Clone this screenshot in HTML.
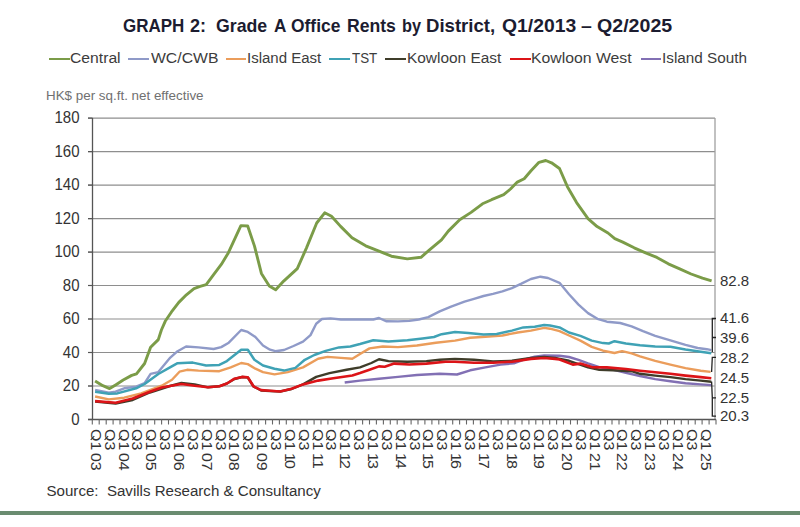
<!DOCTYPE html>
<html><head><meta charset="utf-8">
<style>
html,body{margin:0;padding:0;background:#fff;}
body{width:800px;height:527px;position:relative;overflow:hidden;font-family:"Liberation Sans",sans-serif;}
.abs{position:absolute;}
.tw{position:absolute;top:14.8px;font-weight:bold;font-size:19px;line-height:22px;color:#1c1c30;white-space:pre;transform-origin:0 0;}
.lgl{position:absolute;top:57.8px;height:2.6px;}
.xr b{font-weight:normal;letter-spacing:-1.6px;}
.lgt{position:absolute;top:48.8px;font-size:15.5px;color:#3c3c3c;white-space:pre;line-height:18px;transform-origin:0 0;}
#unit{position:absolute;left:46px;top:88px;font-size:13.4px;color:#707070;white-space:nowrap;line-height:15px;}
.yl{position:absolute;right:720.5px;width:40px;text-align:right;font-size:15px;color:#333;line-height:18px;transform:scaleY(1.12);transform-origin:50% 50%;}
.rl{position:absolute;left:720px;font-size:15px;color:#333;line-height:18px;}
.xr{position:absolute;top:428.9px;writing-mode:vertical-rl;font-size:14px;line-height:14px;color:#333;white-space:pre;transform-origin:0 0;transform:scaleY(1.14);}
.xl span{}
#src{position:absolute;left:46.5px;top:482px;font-size:15.1px;color:#333;white-space:nowrap;line-height:17px;}
#bar{position:absolute;left:0;top:511.4px;width:800px;height:3.4px;background:#6a8c70;}
svg{position:absolute;left:0;top:0;}
</style></head><body>
<div class="tw" style="left:122.50px;transform:scaleX(0.8934)">GRAPH</div><div class="tw" style="left:189.75px;transform:scaleX(0.9500)">2:</div><div class="tw" style="left:215.70px;transform:scaleX(0.9327)">Grade</div><div class="tw" style="left:273.50px;transform:scaleX(0.9038)">A</div><div class="tw" style="left:291.25px;transform:scaleX(0.9167)">Office</div><div class="tw" style="left:347.32px;transform:scaleX(0.9265)">Rents</div><div class="tw" style="left:401.64px;transform:scaleX(0.8571)">by</div><div class="tw" style="left:426.27px;transform:scaleX(0.9783)">District,</div><div class="tw" style="left:501.50px;transform:scaleX(1.0171)">Q1/2013</div><div class="tw" style="left:581.25px;transform:scaleX(1.0250)">&ndash;</div><div class="tw" style="left:596.50px;transform:scaleX(1.0315)">Q2/2025</div>
<div class="lgl" style="left:48.5px;width:21.0px;background:#7b9c48"></div><div class="lgt" style="left:70.19px;transform:scaleX(1.0125)">Central</div><div class="lgl" style="left:128.3px;width:20.6px;background:#8f9ac8"></div><div class="lgt" style="left:150.90px;transform:scaleX(1.0167)">WC/CWB</div><div class="lgl" style="left:225.5px;width:20.6px;background:#eb9d5b"></div><div class="lgt" style="left:247.23px;transform:scaleX(0.9684)">Island East</div><div class="lgl" style="left:329.4px;width:20.6px;background:#3fa2b5"></div><div class="lgt" style="left:351.90px;transform:scaleX(0.8621)">TST</div><div class="lgl" style="left:385.0px;width:21.0px;background:#3f3d2a"></div><div class="lgt" style="left:406.51px;transform:scaleX(0.9947)">Kowloon East</div><div class="lgl" style="left:509.6px;width:21.0px;background:#dc1418"></div><div class="lgt" style="left:531.38px;transform:scaleX(1.0184)">Kowloon West</div><div class="lgl" style="left:640.6px;width:20.3px;background:#8270b4"></div><div class="lgt" style="left:662.31px;transform:scaleX(0.9859)">Island South</div>
<div id="unit">HK$ per sq.ft. net effective</div>
<svg width="800" height="527" viewBox="0 0 800 527"><line x1="88" y1="386.0" x2="715" y2="386.0" stroke="#8e8e8e" stroke-width="1.2"/>
<line x1="88" y1="352.5" x2="715" y2="352.5" stroke="#8e8e8e" stroke-width="1.2"/>
<line x1="88" y1="319.0" x2="715" y2="319.0" stroke="#8e8e8e" stroke-width="1.2"/>
<line x1="88" y1="285.5" x2="715" y2="285.5" stroke="#8e8e8e" stroke-width="1.2"/>
<line x1="88" y1="252.1" x2="715" y2="252.1" stroke="#8e8e8e" stroke-width="1.2"/>
<line x1="88" y1="218.6" x2="715" y2="218.6" stroke="#8e8e8e" stroke-width="1.2"/>
<line x1="88" y1="185.1" x2="715" y2="185.1" stroke="#8e8e8e" stroke-width="1.2"/>
<line x1="88" y1="151.6" x2="715" y2="151.6" stroke="#8e8e8e" stroke-width="1.2"/>
<line x1="88" y1="118.1" x2="715" y2="118.1" stroke="#8e8e8e" stroke-width="1.2"/>
<line x1="715" y1="118" x2="715" y2="419.5" stroke="#a0a0a0" stroke-width="1.3"/>
<polyline points="344.7,382.5 360.0,380.6 379.0,378.7 398.0,376.9 416.9,375.0 439.7,373.8 457.0,374.5 470.2,370.3 485.4,367.4 500.5,364.6 513.8,363.3 523.3,359.8 534.7,356.6 544.2,355.5 559.5,355.7 569.0,357.0 578.5,359.8 588.0,363.3 599.3,367.1 612.6,369.7 625.9,372.8 640.0,376.0 655.2,379.1 670.4,381.3 685.5,383.2 700.7,384.4 711.3,385.1" fill="none" stroke="#8270b4" stroke-width="2.4" stroke-linejoin="round" stroke-linecap="butt"/>
<polyline points="95.1,396.5 108.8,399.4 124.2,397.7 141.2,393.4 161.7,385.7 172.0,379.8 179.5,371.7 187.1,369.8 198.5,370.6 219.3,371.2 230.7,367.4 241.2,363.0 247.8,364.1 255.4,368.7 263.0,372.1 274.5,374.4 287.8,372.1 303.0,367.4 318.1,358.8 327.6,356.9 340.9,357.9 352.3,358.8 360.0,354.1 369.5,348.4 382.8,346.5 398.0,347.1 416.9,345.5 435.9,342.7 455.0,340.6 470.2,337.8 485.4,336.8 502.4,335.5 517.6,332.5 530.9,330.6 544.2,327.9 550.0,328.7 559.5,331.2 569.0,335.5 580.4,340.6 591.7,346.9 603.1,350.7 614.5,353.0 622.1,351.1 631.6,353.4 640.0,356.3 655.2,360.9 670.4,364.6 685.5,368.1 700.7,370.7 710.6,371.9" fill="none" stroke="#eb9d5b" stroke-width="2.4" stroke-linejoin="round" stroke-linecap="butt"/>
<polyline points="95.1,390.0 108.8,392.6 115.6,391.7 124.2,388.3 136.1,386.6 144.6,383.2 150.6,373.8 158.3,372.1 170.3,357.6 177.6,351.2 186.1,346.5 198.5,347.4 213.6,349.0 221.2,347.1 228.8,342.7 241.2,330.0 247.8,331.9 255.4,337.0 263.0,345.5 270.0,349.7 275.4,351.2 284.0,350.0 293.5,346.0 303.0,341.7 310.5,335.1 316.2,323.7 321.9,319.0 330.5,318.4 340.9,319.5 365.0,319.5 373.3,319.5 379.0,318.0 386.6,321.3 398.0,321.4 409.3,320.9 418.8,319.5 428.3,317.1 439.7,311.4 451.1,306.6 464.5,301.7 474.0,298.9 483.5,296.0 493.0,293.8 502.4,291.3 511.9,288.1 521.4,283.7 530.9,279.0 540.4,276.7 548.0,278.0 559.5,282.8 569.0,294.2 578.5,304.6 588.0,313.1 597.4,318.8 606.9,321.7 620.2,323.0 631.6,326.4 643.0,331.2 655.2,335.8 670.4,340.4 685.5,344.9 697.7,348.0 706.8,349.2 711.3,350.2" fill="none" stroke="#8f9ac8" stroke-width="2.4" stroke-linejoin="round" stroke-linecap="butt"/>
<polyline points="95.1,391.7 108.8,393.8 117.3,393.4 136.1,388.3 144.6,384.0 158.3,374.0 170.0,367.4 177.6,363.2 192.8,362.6 206.1,365.5 219.3,364.9 226.9,361.1 241.2,349.7 247.8,349.7 254.4,359.8 263.0,365.5 274.5,368.7 284.0,370.6 295.4,367.9 304.8,359.8 314.3,355.0 325.7,350.9 339.0,347.4 350.4,346.5 360.0,344.0 373.3,340.2 388.5,341.4 407.4,340.2 422.6,338.5 434.0,337.0 441.6,334.2 455.0,332.1 468.3,333.1 483.5,334.6 496.7,334.0 511.9,330.6 523.3,327.4 534.7,326.8 544.2,324.9 550.0,325.5 559.5,327.4 569.0,332.5 580.4,335.9 591.7,340.6 603.1,343.1 608.8,343.5 614.5,341.2 625.9,343.5 640.0,345.2 655.2,346.4 670.4,346.7 685.5,349.5 700.7,351.7 711.3,353.3" fill="none" stroke="#3fa2b5" stroke-width="2.5" stroke-linejoin="round" stroke-linecap="butt"/>
<polyline points="95.1,381.1 102.8,385.7 109.6,388.6 115.6,384.9 123.2,380.0 131.7,375.4 136.5,373.8 144.6,363.5 150.6,347.3 158.3,339.6 161.4,330.0 165.2,321.3 171.3,312.2 178.8,302.4 186.4,294.8 194.0,288.7 200.1,286.4 206.2,284.6 213.8,274.3 221.3,264.4 228.3,252.9 240.9,225.6 247.7,226.0 254.5,246.1 261.4,273.4 269.3,285.9 275.7,289.8 283.7,281.1 297.3,268.6 306.4,248.1 316.7,223.0 324.7,212.8 331.5,216.2 340.6,226.4 352.0,237.8 365.7,245.8 377.1,250.4 391.4,256.2 407.3,258.9 421.0,257.3 430.1,249.3 441.5,239.8 448.3,231.1 459.7,219.7 471.1,212.4 482.5,203.8 491.6,199.7 503.7,194.7 510.5,189.0 517.3,182.1 524.2,178.7 531.0,170.8 539.0,162.3 545.8,160.5 551.5,162.8 559.5,168.5 567.4,186.7 576.6,202.6 588.0,218.6 597.1,226.6 608.0,233.0 614.8,238.7 622.8,242.1 634.2,247.8 645.6,252.8 656.9,257.4 668.3,263.8 679.7,268.8 691.1,274.0 702.5,278.1 711.6,280.9" fill="none" stroke="#7b9c48" stroke-width="2.9" stroke-linejoin="round" stroke-linecap="butt"/>
<polyline points="95.1,401.5 115.6,403.5 132.7,400.0 149.8,392.5 170.0,386.0 181.4,383.0 194.7,384.5 208.0,387.3 219.3,386.3 226.9,383.5 234.5,379.0 242.1,377.0 247.8,377.5 253.5,386.5 261.1,390.5 270.0,391.0 280.2,391.5 291.6,389.0 303.0,384.4 316.2,376.9 329.5,373.1 346.6,369.8 360.0,367.4 371.4,363.0 379.0,359.2 388.5,361.1 407.4,361.7 426.4,361.1 439.7,359.8 455.0,358.9 474.0,359.8 493.0,361.4 512.0,360.8 530.9,358.0 544.2,357.0 555.0,358.0 569.0,360.8 588.0,367.4 599.3,369.7 612.6,370.3 631.6,371.2 640.0,373.8 655.2,375.6 670.4,377.1 685.5,379.1 700.7,380.6 711.3,381.7" fill="none" stroke="#3f3d2a" stroke-width="2.4" stroke-linejoin="round" stroke-linecap="butt"/>
<polyline points="95.1,401.1 115.6,402.8 132.7,398.5 149.8,391.7 161.7,387.5 170.0,386.0 181.4,384.0 194.7,385.8 208.0,387.3 219.3,386.3 226.9,383.5 234.5,378.7 242.1,376.9 247.8,377.2 253.5,386.3 261.1,390.1 270.0,390.7 280.2,391.5 291.6,388.8 303.0,384.4 318.1,380.6 333.3,378.2 352.3,375.5 360.0,373.1 369.5,369.8 379.0,366.4 384.7,366.8 394.2,363.6 409.3,364.5 426.4,363.6 445.4,361.7 455.0,361.7 474.0,362.7 493.0,362.7 512.0,361.7 530.9,358.9 544.2,358.0 555.0,358.9 559.5,359.5 572.8,364.6 580.4,363.6 591.7,367.1 606.9,367.4 625.9,369.0 640.0,370.7 655.2,372.2 670.4,373.8 685.5,375.6 700.7,377.1 711.3,378.3" fill="none" stroke="#dc1418" stroke-width="2.6" stroke-linejoin="round" stroke-linecap="butt"/>
<line x1="92.5" y1="118" x2="92.5" y2="420" stroke="#555" stroke-width="1.3"/>
<line x1="88" y1="419.5" x2="716" y2="419.5" stroke="#555" stroke-width="1.3"/>
<line x1="92.3" y1="419.5" x2="92.3" y2="424.5" stroke="#666" stroke-width="1.1"/>
<line x1="99.2" y1="419.5" x2="99.2" y2="424.5" stroke="#666" stroke-width="1.1"/>
<line x1="106.2" y1="419.5" x2="106.2" y2="424.5" stroke="#666" stroke-width="1.1"/>
<line x1="113.1" y1="419.5" x2="113.1" y2="424.5" stroke="#666" stroke-width="1.1"/>
<line x1="120.0" y1="419.5" x2="120.0" y2="424.5" stroke="#666" stroke-width="1.1"/>
<line x1="126.9" y1="419.5" x2="126.9" y2="424.5" stroke="#666" stroke-width="1.1"/>
<line x1="133.9" y1="419.5" x2="133.9" y2="424.5" stroke="#666" stroke-width="1.1"/>
<line x1="140.8" y1="419.5" x2="140.8" y2="424.5" stroke="#666" stroke-width="1.1"/>
<line x1="147.7" y1="419.5" x2="147.7" y2="424.5" stroke="#666" stroke-width="1.1"/>
<line x1="154.7" y1="419.5" x2="154.7" y2="424.5" stroke="#666" stroke-width="1.1"/>
<line x1="161.6" y1="419.5" x2="161.6" y2="424.5" stroke="#666" stroke-width="1.1"/>
<line x1="168.5" y1="419.5" x2="168.5" y2="424.5" stroke="#666" stroke-width="1.1"/>
<line x1="175.5" y1="419.5" x2="175.5" y2="424.5" stroke="#666" stroke-width="1.1"/>
<line x1="182.4" y1="419.5" x2="182.4" y2="424.5" stroke="#666" stroke-width="1.1"/>
<line x1="189.3" y1="419.5" x2="189.3" y2="424.5" stroke="#666" stroke-width="1.1"/>
<line x1="196.2" y1="419.5" x2="196.2" y2="424.5" stroke="#666" stroke-width="1.1"/>
<line x1="203.2" y1="419.5" x2="203.2" y2="424.5" stroke="#666" stroke-width="1.1"/>
<line x1="210.1" y1="419.5" x2="210.1" y2="424.5" stroke="#666" stroke-width="1.1"/>
<line x1="217.0" y1="419.5" x2="217.0" y2="424.5" stroke="#666" stroke-width="1.1"/>
<line x1="224.0" y1="419.5" x2="224.0" y2="424.5" stroke="#666" stroke-width="1.1"/>
<line x1="230.9" y1="419.5" x2="230.9" y2="424.5" stroke="#666" stroke-width="1.1"/>
<line x1="237.8" y1="419.5" x2="237.8" y2="424.5" stroke="#666" stroke-width="1.1"/>
<line x1="244.8" y1="419.5" x2="244.8" y2="424.5" stroke="#666" stroke-width="1.1"/>
<line x1="251.7" y1="419.5" x2="251.7" y2="424.5" stroke="#666" stroke-width="1.1"/>
<line x1="258.6" y1="419.5" x2="258.6" y2="424.5" stroke="#666" stroke-width="1.1"/>
<line x1="265.6" y1="419.5" x2="265.6" y2="424.5" stroke="#666" stroke-width="1.1"/>
<line x1="272.5" y1="419.5" x2="272.5" y2="424.5" stroke="#666" stroke-width="1.1"/>
<line x1="279.4" y1="419.5" x2="279.4" y2="424.5" stroke="#666" stroke-width="1.1"/>
<line x1="286.3" y1="419.5" x2="286.3" y2="424.5" stroke="#666" stroke-width="1.1"/>
<line x1="293.3" y1="419.5" x2="293.3" y2="424.5" stroke="#666" stroke-width="1.1"/>
<line x1="300.2" y1="419.5" x2="300.2" y2="424.5" stroke="#666" stroke-width="1.1"/>
<line x1="307.1" y1="419.5" x2="307.1" y2="424.5" stroke="#666" stroke-width="1.1"/>
<line x1="314.1" y1="419.5" x2="314.1" y2="424.5" stroke="#666" stroke-width="1.1"/>
<line x1="321.0" y1="419.5" x2="321.0" y2="424.5" stroke="#666" stroke-width="1.1"/>
<line x1="327.9" y1="419.5" x2="327.9" y2="424.5" stroke="#666" stroke-width="1.1"/>
<line x1="334.8" y1="419.5" x2="334.8" y2="424.5" stroke="#666" stroke-width="1.1"/>
<line x1="341.8" y1="419.5" x2="341.8" y2="424.5" stroke="#666" stroke-width="1.1"/>
<line x1="348.7" y1="419.5" x2="348.7" y2="424.5" stroke="#666" stroke-width="1.1"/>
<line x1="355.6" y1="419.5" x2="355.6" y2="424.5" stroke="#666" stroke-width="1.1"/>
<line x1="362.6" y1="419.5" x2="362.6" y2="424.5" stroke="#666" stroke-width="1.1"/>
<line x1="369.5" y1="419.5" x2="369.5" y2="424.5" stroke="#666" stroke-width="1.1"/>
<line x1="376.4" y1="419.5" x2="376.4" y2="424.5" stroke="#666" stroke-width="1.1"/>
<line x1="383.4" y1="419.5" x2="383.4" y2="424.5" stroke="#666" stroke-width="1.1"/>
<line x1="390.3" y1="419.5" x2="390.3" y2="424.5" stroke="#666" stroke-width="1.1"/>
<line x1="397.2" y1="419.5" x2="397.2" y2="424.5" stroke="#666" stroke-width="1.1"/>
<line x1="404.1" y1="419.5" x2="404.1" y2="424.5" stroke="#666" stroke-width="1.1"/>
<line x1="411.1" y1="419.5" x2="411.1" y2="424.5" stroke="#666" stroke-width="1.1"/>
<line x1="418.0" y1="419.5" x2="418.0" y2="424.5" stroke="#666" stroke-width="1.1"/>
<line x1="424.9" y1="419.5" x2="424.9" y2="424.5" stroke="#666" stroke-width="1.1"/>
<line x1="431.9" y1="419.5" x2="431.9" y2="424.5" stroke="#666" stroke-width="1.1"/>
<line x1="438.8" y1="419.5" x2="438.8" y2="424.5" stroke="#666" stroke-width="1.1"/>
<line x1="445.7" y1="419.5" x2="445.7" y2="424.5" stroke="#666" stroke-width="1.1"/>
<line x1="452.7" y1="419.5" x2="452.7" y2="424.5" stroke="#666" stroke-width="1.1"/>
<line x1="459.6" y1="419.5" x2="459.6" y2="424.5" stroke="#666" stroke-width="1.1"/>
<line x1="466.5" y1="419.5" x2="466.5" y2="424.5" stroke="#666" stroke-width="1.1"/>
<line x1="473.4" y1="419.5" x2="473.4" y2="424.5" stroke="#666" stroke-width="1.1"/>
<line x1="480.4" y1="419.5" x2="480.4" y2="424.5" stroke="#666" stroke-width="1.1"/>
<line x1="487.3" y1="419.5" x2="487.3" y2="424.5" stroke="#666" stroke-width="1.1"/>
<line x1="494.2" y1="419.5" x2="494.2" y2="424.5" stroke="#666" stroke-width="1.1"/>
<line x1="501.2" y1="419.5" x2="501.2" y2="424.5" stroke="#666" stroke-width="1.1"/>
<line x1="508.1" y1="419.5" x2="508.1" y2="424.5" stroke="#666" stroke-width="1.1"/>
<line x1="515.0" y1="419.5" x2="515.0" y2="424.5" stroke="#666" stroke-width="1.1"/>
<line x1="522.0" y1="419.5" x2="522.0" y2="424.5" stroke="#666" stroke-width="1.1"/>
<line x1="528.9" y1="419.5" x2="528.9" y2="424.5" stroke="#666" stroke-width="1.1"/>
<line x1="535.8" y1="419.5" x2="535.8" y2="424.5" stroke="#666" stroke-width="1.1"/>
<line x1="542.8" y1="419.5" x2="542.8" y2="424.5" stroke="#666" stroke-width="1.1"/>
<line x1="549.7" y1="419.5" x2="549.7" y2="424.5" stroke="#666" stroke-width="1.1"/>
<line x1="556.6" y1="419.5" x2="556.6" y2="424.5" stroke="#666" stroke-width="1.1"/>
<line x1="563.5" y1="419.5" x2="563.5" y2="424.5" stroke="#666" stroke-width="1.1"/>
<line x1="570.5" y1="419.5" x2="570.5" y2="424.5" stroke="#666" stroke-width="1.1"/>
<line x1="577.4" y1="419.5" x2="577.4" y2="424.5" stroke="#666" stroke-width="1.1"/>
<line x1="584.3" y1="419.5" x2="584.3" y2="424.5" stroke="#666" stroke-width="1.1"/>
<line x1="591.3" y1="419.5" x2="591.3" y2="424.5" stroke="#666" stroke-width="1.1"/>
<line x1="598.2" y1="419.5" x2="598.2" y2="424.5" stroke="#666" stroke-width="1.1"/>
<line x1="605.1" y1="419.5" x2="605.1" y2="424.5" stroke="#666" stroke-width="1.1"/>
<line x1="612.0" y1="419.5" x2="612.0" y2="424.5" stroke="#666" stroke-width="1.1"/>
<line x1="619.0" y1="419.5" x2="619.0" y2="424.5" stroke="#666" stroke-width="1.1"/>
<line x1="625.9" y1="419.5" x2="625.9" y2="424.5" stroke="#666" stroke-width="1.1"/>
<line x1="632.8" y1="419.5" x2="632.8" y2="424.5" stroke="#666" stroke-width="1.1"/>
<line x1="639.8" y1="419.5" x2="639.8" y2="424.5" stroke="#666" stroke-width="1.1"/>
<line x1="646.7" y1="419.5" x2="646.7" y2="424.5" stroke="#666" stroke-width="1.1"/>
<line x1="653.6" y1="419.5" x2="653.6" y2="424.5" stroke="#666" stroke-width="1.1"/>
<line x1="660.6" y1="419.5" x2="660.6" y2="424.5" stroke="#666" stroke-width="1.1"/>
<line x1="667.5" y1="419.5" x2="667.5" y2="424.5" stroke="#666" stroke-width="1.1"/>
<line x1="674.4" y1="419.5" x2="674.4" y2="424.5" stroke="#666" stroke-width="1.1"/>
<line x1="681.3" y1="419.5" x2="681.3" y2="424.5" stroke="#666" stroke-width="1.1"/>
<line x1="688.3" y1="419.5" x2="688.3" y2="424.5" stroke="#666" stroke-width="1.1"/>
<line x1="695.2" y1="419.5" x2="695.2" y2="424.5" stroke="#666" stroke-width="1.1"/>
<line x1="702.1" y1="419.5" x2="702.1" y2="424.5" stroke="#666" stroke-width="1.1"/>
<line x1="709.1" y1="419.5" x2="709.1" y2="424.5" stroke="#666" stroke-width="1.1"/>
<line x1="716.0" y1="419.5" x2="716.0" y2="424.5" stroke="#666" stroke-width="1.1"/>
<line x1="88" y1="419.5" x2="92.5" y2="419.5" stroke="#555" stroke-width="1.2"/>
<line x1="88" y1="386.0" x2="92.5" y2="386.0" stroke="#555" stroke-width="1.2"/>
<line x1="88" y1="352.5" x2="92.5" y2="352.5" stroke="#555" stroke-width="1.2"/>
<line x1="88" y1="319.0" x2="92.5" y2="319.0" stroke="#555" stroke-width="1.2"/>
<line x1="88" y1="285.5" x2="92.5" y2="285.5" stroke="#555" stroke-width="1.2"/>
<line x1="88" y1="252.1" x2="92.5" y2="252.1" stroke="#555" stroke-width="1.2"/>
<line x1="88" y1="218.6" x2="92.5" y2="218.6" stroke="#555" stroke-width="1.2"/>
<line x1="88" y1="185.1" x2="92.5" y2="185.1" stroke="#555" stroke-width="1.2"/>
<line x1="88" y1="151.6" x2="92.5" y2="151.6" stroke="#555" stroke-width="1.2"/>
<line x1="88" y1="118.1" x2="92.5" y2="118.1" stroke="#555" stroke-width="1.2"/>
<line x1="94.27" y1="436.2" x2="90.77" y2="439.8" stroke="#333" stroke-width="1.15"/>
<line x1="108.12" y1="436.2" x2="104.62" y2="439.8" stroke="#333" stroke-width="1.15"/>
<line x1="121.98" y1="436.2" x2="118.48" y2="439.8" stroke="#333" stroke-width="1.15"/>
<line x1="135.84" y1="436.2" x2="132.34" y2="439.8" stroke="#333" stroke-width="1.15"/>
<line x1="149.70" y1="436.2" x2="146.20" y2="439.8" stroke="#333" stroke-width="1.15"/>
<line x1="163.56" y1="436.2" x2="160.06" y2="439.8" stroke="#333" stroke-width="1.15"/>
<line x1="177.43" y1="436.2" x2="173.93" y2="439.8" stroke="#333" stroke-width="1.15"/>
<line x1="191.28" y1="436.2" x2="187.78" y2="439.8" stroke="#333" stroke-width="1.15"/>
<line x1="205.14" y1="436.2" x2="201.64" y2="439.8" stroke="#333" stroke-width="1.15"/>
<line x1="219.00" y1="436.2" x2="215.50" y2="439.8" stroke="#333" stroke-width="1.15"/>
<line x1="232.87" y1="436.2" x2="229.37" y2="439.8" stroke="#333" stroke-width="1.15"/>
<line x1="246.72" y1="436.2" x2="243.22" y2="439.8" stroke="#333" stroke-width="1.15"/>
<line x1="260.58" y1="436.2" x2="257.08" y2="439.8" stroke="#333" stroke-width="1.15"/>
<line x1="274.44" y1="436.2" x2="270.94" y2="439.8" stroke="#333" stroke-width="1.15"/>
<line x1="288.31" y1="436.2" x2="284.81" y2="439.8" stroke="#333" stroke-width="1.15"/>
<line x1="302.16" y1="436.2" x2="298.66" y2="439.8" stroke="#333" stroke-width="1.15"/>
<line x1="316.02" y1="436.2" x2="312.52" y2="439.8" stroke="#333" stroke-width="1.15"/>
<line x1="329.88" y1="436.2" x2="326.38" y2="439.8" stroke="#333" stroke-width="1.15"/>
<line x1="343.75" y1="436.2" x2="340.25" y2="439.8" stroke="#333" stroke-width="1.15"/>
<line x1="357.61" y1="436.2" x2="354.11" y2="439.8" stroke="#333" stroke-width="1.15"/>
<line x1="371.46" y1="436.2" x2="367.96" y2="439.8" stroke="#333" stroke-width="1.15"/>
<line x1="385.32" y1="436.2" x2="381.82" y2="439.8" stroke="#333" stroke-width="1.15"/>
<line x1="399.19" y1="436.2" x2="395.69" y2="439.8" stroke="#333" stroke-width="1.15"/>
<line x1="413.05" y1="436.2" x2="409.55" y2="439.8" stroke="#333" stroke-width="1.15"/>
<line x1="426.90" y1="436.2" x2="423.40" y2="439.8" stroke="#333" stroke-width="1.15"/>
<line x1="440.76" y1="436.2" x2="437.26" y2="439.8" stroke="#333" stroke-width="1.15"/>
<line x1="454.62" y1="436.2" x2="451.12" y2="439.8" stroke="#333" stroke-width="1.15"/>
<line x1="468.49" y1="436.2" x2="464.99" y2="439.8" stroke="#333" stroke-width="1.15"/>
<line x1="482.34" y1="436.2" x2="478.84" y2="439.8" stroke="#333" stroke-width="1.15"/>
<line x1="496.20" y1="436.2" x2="492.70" y2="439.8" stroke="#333" stroke-width="1.15"/>
<line x1="510.06" y1="436.2" x2="506.56" y2="439.8" stroke="#333" stroke-width="1.15"/>
<line x1="523.92" y1="436.2" x2="520.42" y2="439.8" stroke="#333" stroke-width="1.15"/>
<line x1="537.78" y1="436.2" x2="534.28" y2="439.8" stroke="#333" stroke-width="1.15"/>
<line x1="551.64" y1="436.2" x2="548.14" y2="439.8" stroke="#333" stroke-width="1.15"/>
<line x1="565.50" y1="436.2" x2="562.00" y2="439.8" stroke="#333" stroke-width="1.15"/>
<line x1="579.37" y1="436.2" x2="575.87" y2="439.8" stroke="#333" stroke-width="1.15"/>
<line x1="593.22" y1="436.2" x2="589.72" y2="439.8" stroke="#333" stroke-width="1.15"/>
<line x1="607.08" y1="436.2" x2="603.58" y2="439.8" stroke="#333" stroke-width="1.15"/>
<line x1="620.94" y1="436.2" x2="617.44" y2="439.8" stroke="#333" stroke-width="1.15"/>
<line x1="634.80" y1="436.2" x2="631.30" y2="439.8" stroke="#333" stroke-width="1.15"/>
<line x1="648.66" y1="436.2" x2="645.16" y2="439.8" stroke="#333" stroke-width="1.15"/>
<line x1="662.52" y1="436.2" x2="659.02" y2="439.8" stroke="#333" stroke-width="1.15"/>
<line x1="676.38" y1="436.2" x2="672.88" y2="439.8" stroke="#333" stroke-width="1.15"/>
<line x1="690.24" y1="436.2" x2="686.74" y2="439.8" stroke="#333" stroke-width="1.15"/>
<line x1="704.10" y1="436.2" x2="700.60" y2="439.8" stroke="#333" stroke-width="1.15"/>
<path d="M716,318.5 H712.3 V352 M712.3,337.5 H716 M716,357.3 H712.3 L711.6,372 M711.6,381.5 L712.3,397.8 V416.1 H716 M712.3,397.8 H716" fill="none" stroke="#222" stroke-width="1.3"/></svg>
<div class="yl" style="top:409.7px">0</div><div class="yl" style="top:376.2px">20</div><div class="yl" style="top:342.7px">40</div><div class="yl" style="top:309.2px">60</div><div class="yl" style="top:275.7px">80</div><div class="yl" style="top:242.3px">100</div><div class="yl" style="top:208.8px">120</div><div class="yl" style="top:175.3px">140</div><div class="yl" style="top:141.8px">160</div><div class="yl" style="top:108.3px">180</div>
<div class="rl" style="top:272.0px">82.8</div><div class="rl" style="top:309.3px">41.6</div><div class="rl" style="top:328.7px">39.6</div><div class="rl" style="top:348.5px">28.2</div><div class="rl" style="top:369.2px">24.5</div><div class="rl" style="top:389.0px">22.5</div><div class="rl" style="top:407.3px">20.3</div>
<div class="xr" style="left:88.8px">O<b>1</b> 03</div><div class="xr" style="left:102.6px">O3</div><div class="xr" style="left:116.5px">O<b>1</b> 04</div><div class="xr" style="left:130.3px">O3</div><div class="xr" style="left:144.2px">O<b>1</b> 05</div><div class="xr" style="left:158.1px">O3</div><div class="xr" style="left:171.9px">O<b>1</b> 06</div><div class="xr" style="left:185.8px">O3</div><div class="xr" style="left:199.6px">O<b>1</b> 07</div><div class="xr" style="left:213.5px">O3</div><div class="xr" style="left:227.4px">O<b>1</b> 08</div><div class="xr" style="left:241.2px">O3</div><div class="xr" style="left:255.1px">O<b>1</b> 09</div><div class="xr" style="left:268.9px">O3</div><div class="xr" style="left:282.8px">O<b>1</b> <b>1</b>0</div><div class="xr" style="left:296.7px">O3</div><div class="xr" style="left:310.5px">O<b>1</b> <b>1</b><b>1</b></div><div class="xr" style="left:324.4px">O3</div><div class="xr" style="left:338.2px">O<b>1</b> <b>1</b>2</div><div class="xr" style="left:352.1px">O3</div><div class="xr" style="left:366.0px">O<b>1</b> <b>1</b>3</div><div class="xr" style="left:379.8px">O3</div><div class="xr" style="left:393.7px">O<b>1</b> <b>1</b>4</div><div class="xr" style="left:407.5px">O3</div><div class="xr" style="left:421.4px">O<b>1</b> <b>1</b>5</div><div class="xr" style="left:435.3px">O3</div><div class="xr" style="left:449.1px">O<b>1</b> <b>1</b>6</div><div class="xr" style="left:463.0px">O3</div><div class="xr" style="left:476.8px">O<b>1</b> <b>1</b>7</div><div class="xr" style="left:490.7px">O3</div><div class="xr" style="left:504.6px">O<b>1</b> <b>1</b>8</div><div class="xr" style="left:518.4px">O3</div><div class="xr" style="left:532.3px">O<b>1</b> <b>1</b>9</div><div class="xr" style="left:546.1px">O3</div><div class="xr" style="left:560.0px">O<b>1</b> 20</div><div class="xr" style="left:573.9px">O3</div><div class="xr" style="left:587.7px">O<b>1</b> 2<b>1</b></div><div class="xr" style="left:601.6px">O3</div><div class="xr" style="left:615.4px">O<b>1</b> 22</div><div class="xr" style="left:629.3px">O3</div><div class="xr" style="left:643.2px">O<b>1</b> 23</div><div class="xr" style="left:657.0px">O3</div><div class="xr" style="left:670.9px">O<b>1</b> 24</div><div class="xr" style="left:684.7px">O3</div><div class="xr" style="left:698.6px">O<b>1</b> 25</div>
<div id="src">Source:&nbsp; Savills Research &amp; Consultancy</div>
<div id="bar"></div>
</body></html>
